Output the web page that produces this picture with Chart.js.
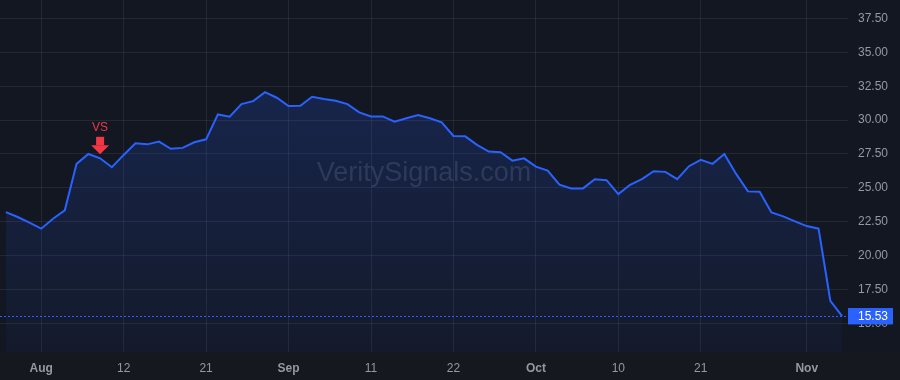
<!DOCTYPE html>
<html>
<head>
<meta charset="utf-8">
<script src="https://cdn.jsdelivr.net/npm/chart.js@4.4.1/dist/chart.umd.min.js"></script>
<style>
  html, body { margin: 0; padding: 0; background: #131722; }
  #wrap { width: 900px; height: 380px; position: relative; }
</style>
</head>
<body>
<div id="wrap"><canvas id="chart"></canvas></div>
<script>
// trading days, Jul 29 - Nov 6 2025
const dates = [
  '2025-07-29', '2025-07-30', '2025-07-31', '2025-08-01', '2025-08-04', '2025-08-05', '2025-08-06', '2025-08-07',
  '2025-08-08', '2025-08-11', '2025-08-12', '2025-08-13', '2025-08-14', '2025-08-15', '2025-08-18', '2025-08-19',
  '2025-08-20', '2025-08-21', '2025-08-22', '2025-08-25', '2025-08-26', '2025-08-27', '2025-08-28', '2025-08-29',
  '2025-09-02', '2025-09-03', '2025-09-04', '2025-09-05', '2025-09-08', '2025-09-09', '2025-09-10', '2025-09-11',
  '2025-09-12', '2025-09-15', '2025-09-16', '2025-09-17', '2025-09-18', '2025-09-19', '2025-09-22', '2025-09-23',
  '2025-09-24', '2025-09-25', '2025-09-26', '2025-09-29', '2025-09-30', '2025-10-01', '2025-10-02', '2025-10-03',
  '2025-10-06', '2025-10-07', '2025-10-08', '2025-10-09', '2025-10-10', '2025-10-13', '2025-10-14', '2025-10-15',
  '2025-10-16', '2025-10-17', '2025-10-20', '2025-10-21', '2025-10-22', '2025-10-23', '2025-10-24', '2025-10-27',
  '2025-10-28', '2025-10-29', '2025-10-30', '2025-10-31', '2025-11-03', '2025-11-04', '2025-11-05', '2025-11-06'
];

const closes = [
  23.21, 22.85, 22.43, 21.99, 22.72, 23.34, 26.77, 27.50,
  27.18, 26.52, 27.43, 28.29, 28.21, 28.41, 27.88, 27.95,
  28.36, 28.58, 30.42, 30.25, 31.18, 31.40, 32.06, 31.65,
  31.04, 31.06, 31.72, 31.55, 31.43, 31.18, 30.57, 30.27,
  30.27, 29.88, 30.13, 30.37, 30.13, 29.83, 28.83, 28.80,
  28.17, 27.68, 27.63, 27.01, 27.18, 26.57, 26.28, 25.23,
  24.96, 24.96, 25.64, 25.57, 24.54, 25.23, 25.64, 26.23,
  26.18, 25.64, 26.60, 27.07, 26.77, 27.50, 26.03, 24.74,
  24.71, 23.19, 22.90, 22.53, 22.18, 21.99, 16.67, 15.53
];

const tickDates = ['2025-08-01', '2025-08-12', '2025-08-21', '2025-09-02', '2025-09-11',
  '2025-09-22', '2025-10-01', '2025-10-10', '2025-10-21', '2025-11-03'];
const tickText = ['Aug', '12', '21', 'Sep', '11', '22', 'Oct', '10', '21', 'Nov'];

const priceTicks = [15, 17.5, 20, 22.5, 25, 27.5, 30, 32.5, 35, 37.5];

const signals = [{ date: '2025-08-08', text: 'VS' }];

const lastPrice = closes[closes.length - 1];
const blue = '#2962ff';
const red = '#f23645';
const textGrey = '#9598a1';

const backgroundPlugin = {
  id: 'bg',
  beforeDraw(chart) {
    const { ctx, chartArea } = chart;
    ctx.save();
    ctx.fillStyle = '#131722';
    ctx.fillRect(0, 0, chart.width, chart.height);
    ctx.fillStyle = '#16181f';
    ctx.fillRect(0, chartArea.bottom, chart.width, chart.height - chartArea.bottom);
    ctx.restore();
  },
  beforeDatasetsDraw(chart) {
    const { ctx, chartArea } = chart;
    ctx.save();
    ctx.font = '27px "Liberation Sans", Arial, sans-serif';
    ctx.fillStyle = 'rgba(120, 125, 145, 0.28)';
    ctx.textAlign = 'center';
    ctx.textBaseline = 'middle';
    ctx.fillText('VeritySignals.com', (chartArea.left + chartArea.right) / 2, 174);
    ctx.restore();
  }
};

const overlayPlugin = {
  id: 'overlay',
  afterDatasetsDraw(chart) {
    const { ctx, chartArea } = chart;
    const xs = chart.scales.x;
    const ys = chart.scales.y;

    // signal arrows
    signals.forEach(s => {
      const i = dates.indexOf(s.date);
      const x = xs.getPixelForValue(i);
      const tip = ys.getPixelForValue(closes[i]) - 4;
      const base = tip - 9;
      ctx.save();
      ctx.fillStyle = red;
      ctx.beginPath();
      ctx.moveTo(x - 9, base);
      ctx.lineTo(x + 9, base);
      ctx.lineTo(x, tip);
      ctx.closePath();
      ctx.fill();
      ctx.fillRect(x - 4, base - 8.5, 8, 8.5);
      ctx.font = '12px "Liberation Sans", Arial, sans-serif';
      ctx.textAlign = 'center';
      ctx.textBaseline = 'middle';
      ctx.fillText(s.text, x, base - 18);
      ctx.restore();
    });

    // last price line
    const py = Math.round(ys.getPixelForValue(lastPrice)) + 0.5;
    ctx.save();
    ctx.strokeStyle = blue;
    ctx.lineWidth = 1;
    ctx.setLineDash([2, 2]);
    ctx.beginPath();
    ctx.moveTo(chartArea.left, py);
    ctx.lineTo(chartArea.right, py);
    ctx.stroke();
    ctx.restore();
  },
  afterDraw(chart) {
    const { ctx, chartArea } = chart;
    const py = chart.scales.y.getPixelForValue(lastPrice);
    ctx.save();
    ctx.fillStyle = blue;
    ctx.fillRect(chartArea.right, py - 8.2, 45, 16.4);
    ctx.fillStyle = '#ffffff';
    ctx.font = '12px "Liberation Sans", Arial, sans-serif';
    ctx.textBaseline = 'middle';
    ctx.fillText(lastPrice.toFixed(2), chartArea.right + 10, py + 0.5);
    ctx.restore();
  }
};

new Chart(document.getElementById('chart'), {
  type: 'line',
  data: {
    labels: dates,
    datasets: [{
      data: closes,
      borderColor: blue,
      borderWidth: 2,
      pointRadius: 0,
      tension: 0,
      fill: 'start',
      backgroundColor: (c) => {
        const area = c.chart.chartArea;
        if (!area) return 'rgba(41,98,255,0.15)';
        const g = c.chart.ctx.createLinearGradient(0, area.top, 0, area.bottom);
        g.addColorStop(0, 'rgba(41, 98, 255, 0.24)');
        g.addColorStop(1, 'rgba(41, 98, 255, 0.04)');
        return g;
      }
    }]
  },
  options: {
    responsive: true,
    maintainAspectRatio: false,
    animation: false,
    layout: { padding: 0 },
    plugins: {
      legend: { display: false },
      tooltip: { enabled: false }
    },
    scales: {
      x: {
        type: 'category',
        offset: true,
        border: { display: false },
        grid: { offset: false, color: 'rgba(255,255,255,0.07)', drawTicks: false },
        afterBuildTicks: (scale) => {
          scale.ticks = tickDates.map(d => ({ value: dates.indexOf(d) }));
        },
        afterFit: (scale) => {
          scale.height = 28;
          scale.paddingLeft = 0;
          scale.paddingRight = 0;
        },
        ticks: {
          autoSkip: false,
          maxRotation: 0,
          padding: 9,
          color: textGrey,
          font: (c) => ({
            family: '"Liberation Sans", Arial, sans-serif',
            size: 12,
            weight: /^[A-Z]/.test(c.tick && c.tick.label) ? 'bold' : 'normal'
          }),
          callback: (value) => tickText[tickDates.indexOf(dates[value])]
        }
      },
      y: {
        position: 'right',
        min: 12.89,
        max: 38.86,
        border: { display: false },
        grid: { color: 'rgba(255,255,255,0.07)', drawTicks: false },
        afterBuildTicks: (scale) => {
          scale.ticks = priceTicks.map(v => ({ value: v }));
        },
        afterFit: (scale) => {
          scale.width = 52;
          scale.paddingTop = 0;
          scale.paddingBottom = 0;
        },
        ticks: {
          padding: 10,
          color: textGrey,
          font: { family: '"Liberation Sans", Arial, sans-serif', size: 12 },
          callback: (v) => Number(v).toFixed(2)
        }
      }
    }
  },
  plugins: [backgroundPlugin, overlayPlugin]
});
</script>
</body>
</html>
